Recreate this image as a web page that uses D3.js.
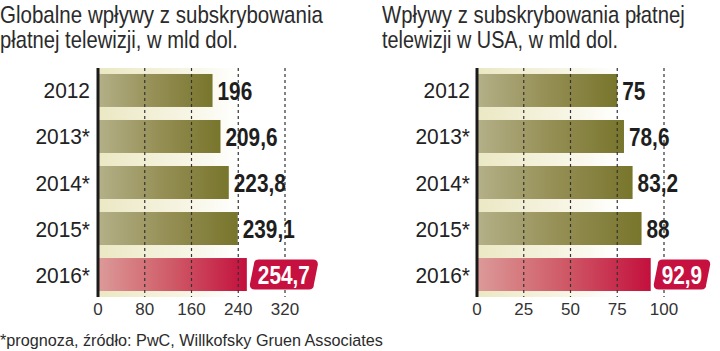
<!DOCTYPE html>
<html>
<head>
<meta charset="utf-8">
<script src="https://cdn.jsdelivr.net/npm/d3@7"></script>
<style>
  body { margin: 0; background: #fff; }
  svg { display: block; }
  text { font-family: "Liberation Sans", Arial, sans-serif; }
</style>
</head>
<body>
<div id="graph"></div>
<script>
var years = ['2012', '2013*', '2014*', '2015*', '2016*']
var globalValues = [196, 209.6, 223.8, 239.1, 254.7]
var usaValues = [75, 78.6, 83.2, 88, 92.9]
var globalTicks = [0, 80, 160, 240, 320]
var usaTicks = [0, 25, 50, 75, 100]

var titles = [
  ['Globalne wpływy z subskrybowania', 'płatnej telewizji, w mld dol.'],
  ['Wpływy z subskrybowania płatnej', 'telewizji w USA, w mld dol.']
]
var note = '*prognoza, źródło: PwC, Willkofsky Gruen Associates'

var width = 720, height = 351

var svg = d3.select('#graph').append('svg')
  .attr('width', width).attr('height', height)

var defs = svg.append('defs')

function grad(id, stops){
  var g = defs.append('linearGradient').attr('id', id)
    .attr('x1', 0).attr('x2', 1).attr('y1', 0).attr('y2', 0)
  stops.forEach(s => g.append('stop').attr('offset', s[0]).attr('stop-color', s[1]))
}
grad('olive', [[0, '#b4b088'], [0.5, '#958f55'], [1, '#78752c']])
grad('red', [[0, '#dc9a98'], [0.5, '#cf5a67'], [1, '#c3103d']])
grad('cream', [[0, '#ebe8c4'], [0.45, '#f6f4e2'], [0.75, '#ffffff']])

// squeeze a text horizontally so it spans w pixels
function fitText(sel, x, y, w){
  var n = sel.node().getComputedTextLength()
  sel.attr('transform', `translate(${x},${y}) scale(${w/n},1)`)
}

var y = d3.scaleBand().domain(years).range([68, 297])
  .paddingInner(0.283).paddingOuter(0.13)

function panel(opts){
  var {x0, values, ticks, title, yearRight, titleX, titleW} = opts
  var x = d3.scaleLinear().domain([0, ticks[ticks.length - 1]]).range([x0, x0 + 187])
  var g = svg.append('g')

  // title
  title.forEach((d, i) => {
    var t = g.append('text')
      .attr('font-family', 'Roboto, sans-serif').attr('font-weight', 300)
      .attr('font-size', 24).attr('fill', '#2b2b2b')
      .text(d)
    fitText(t, titleX, 23 + i*25, titleW[i])
  })

  // cream background
  g.append('rect')
    .attr('x', x(0)).attr('y', 68)
    .attr('width', x.range()[1] - x(0)).attr('height', 229)
    .attr('fill', 'url(#cream)')

  // bars
  g.selectAll('rect.bar').data(values).enter().append('rect')
    .attr('x', x(0))
    .attr('y', (d, i) => y(years[i]))
    .attr('width', d => x(d) - x(0))
    .attr('height', y.bandwidth())
    .attr('fill', (d, i) => i == values.length - 1 ? 'url(#red)' : 'url(#olive)')

  // dashed grid lines
  g.selectAll('line.grid').data(ticks.slice(1)).enter().append('line')
    .attr('x1', d => x(d)).attr('x2', d => x(d))
    .attr('y1', 68).attr('y2', 297)
    .attr('stroke', '#333').attr('stroke-width', 1.2)
    .attr('stroke-dasharray', '3,3')

  // axis line
  g.append('line')
    .attr('x1', x(0)).attr('x2', x(0)).attr('y1', 68).attr('y2', 297)
    .attr('stroke', '#1a1a1a').attr('stroke-width', 3)

  // tick labels
  g.selectAll('text.tick').data(ticks).enter().append('text')
    .attr('x', d => x(d)).attr('y', 315)
    .attr('text-anchor', 'middle')
    .attr('font-family', 'Roboto, sans-serif').attr('font-weight', 300)
    .attr('font-size', 17).attr('fill', '#333')
    .text(d => d)

  // year labels
  g.selectAll('text.year').data(years).enter().append('text')
    .attr('transform', d => `translate(${yearRight},${y(d) + y.bandwidth()/2 + 8}) scale(0.95,1)`)
    .attr('text-anchor', 'end')
    .attr('font-family', 'Roboto, sans-serif')
    .attr('font-size', 22).attr('fill', '#222')
    .text(d => d)

  // value labels
  var fmt = d => String(d).replace('.', ',')
  values.forEach((v, i) => {
    var last = i == values.length - 1
    var cy = y(years[i]) + y.bandwidth()/2
    var lx = x(v) + (last ? 11 : 5)
    var lab = g.append('g').attr('transform', `translate(${lx},${cy})`)
    var box = lab.append('path')
    var t = lab.append('text')
      .attr('transform', 'scale(0.8,1)')
      .attr('y', 9.5)
      .attr('font-size', 26).attr('font-weight', 'bold')
      .attr('fill', last ? '#fff' : '#1e1e1e')
      .text(fmt(v))
    if (last){
      var w = t.node().getComputedTextLength()*0.8
      var bw = w + 12, bh = 30, r = 5, sk = 2
      // slanted rounded box
      var p = d3.path()
      var l = -6, tp = -15
      p.moveTo(l + sk + r, tp)
      p.lineTo(l + bw + sk - r, tp)
      p.quadraticCurveTo(l + bw + sk, tp, l + bw + sk, tp + r)
      p.lineTo(l + bw - sk, tp + bh - r)
      p.quadraticCurveTo(l + bw - sk, tp + bh, l + bw - sk - r, tp + bh)
      p.lineTo(l - sk + r, tp + bh)
      p.quadraticCurveTo(l - sk, tp + bh, l - sk, tp + bh - r)
      p.lineTo(l + sk, tp + r)
      p.quadraticCurveTo(l + sk, tp, l + sk + r, tp)
      p.closePath()
      box.attr('d', p.toString()).attr('fill', '#c6103f')
    }
  })
}

panel({x0: 98, values: globalValues, ticks: globalTicks, title: titles[0],
  yearRight: 90, titleX: 0, titleW: [323, 238]})
panel({x0: 477, values: usaValues, ticks: usaTicks, title: titles[1],
  yearRight: 470, titleX: 382, titleW: [303, 236]})

var nt = svg.append('text')
  .attr('font-family', 'Roboto, sans-serif').attr('font-weight', 300)
  .attr('font-size', 17).attr('fill', '#2b2b2b')
  .text(note)
fitText(nt, 0, 346, 383)
</script>
</body>
</html>
